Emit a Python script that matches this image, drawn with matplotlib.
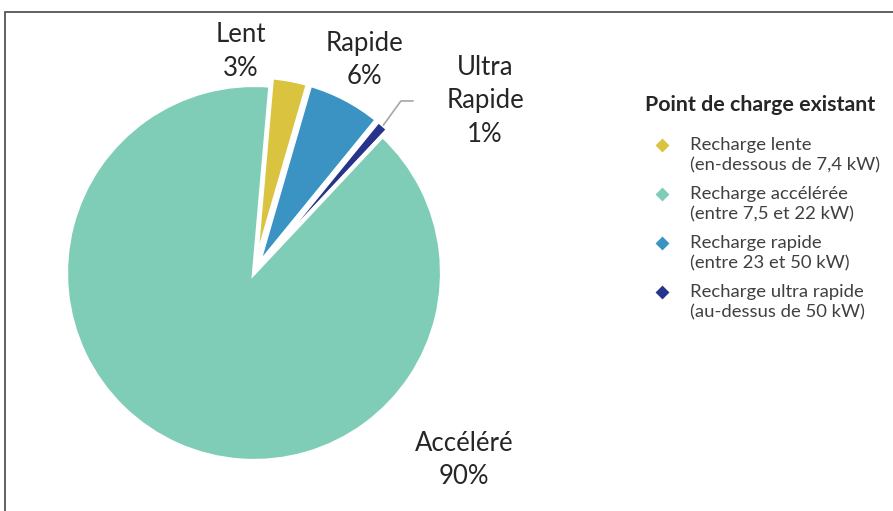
import numpy as np
import matplotlib.pyplot as plt
from matplotlib.patches import Rectangle

plt.rcParams['font.family'] = ['Lato', 'DejaVu Sans']

# Données
segments = ['Lent', 'Rapide', 'Ultra\nRapide', 'Accéléré']
parts = [3.1, 6.4, 1.1, 89.4]
pourcents = ['3%', '6%', '1%', '90%']
couleurs = ['#D9C33F', '#3A93C3', '#27348B', '#7FCDB6']

titre_leg = 'Point de charge existant'
legende = ['Recharge lente\n(en-dessous de 7,4 kW)',
           'Recharge accélérée\n(entre 7,5 et 22 kW)',
           'Recharge rapide\n(entre 23 et 50 kW)',
           'Recharge ultra rapide\n(au-dessus de 50 kW)']
ordre_leg = [0, 3, 1, 2]  # lente, accélérée, rapide, ultra

fig = plt.figure(figsize=(8.93, 5.11), dpi=100)

# camembert
ax = fig.add_axes([0.0213, 0.0059, 0.5263, 0.9198])
wedges, _ = ax.pie(parts, colors=couleurs, startangle=85, counterclock=False,
                   explode=[0.045, 0.045, 0.045, 0], radius=1,
                   wedgeprops=dict(edgecolor='white', linewidth=3))
ax.set_xlim(-1.25, 1.25)
ax.set_ylim(-1.25, 1.25)
ax.set_aspect('equal')

# étiquettes
pos_lab = [(-0.069, 1.176), (0.590, 1.133), (1.229, 0.915), (1.117, -0.995)]
for seg, pct, (x, y) in zip(segments, pourcents, pos_lab):
    ax.text(x, y, seg + '\n' + pct, ha='center', va='center', fontsize=18.5,
            linespacing=1.44, color='#262626')

# trait de rappel pour "Ultra Rapide"
w = wedges[2]
th = np.radians((w.theta1 + w.theta2) / 2)
tip = (w.center[0] + w.r * np.cos(th), w.center[1] + w.r * np.sin(th))
ax.annotate('', xy=tip, xytext=(0.846, 0.915),
            arrowprops=dict(arrowstyle='-', color='#a6a6a6', lw=1.2,
                            shrinkA=0, shrinkB=0,
                            connectionstyle='angle,angleA=0,angleB=54,rad=0'))

# légende (axes en pixels)
lax = fig.add_axes([0, 0, 1, 1])
lax.set_xlim(0, 893)
lax.set_ylim(511, 0)
lax.axis('off')
lax.text(645, 105, titre_leg, fontweight='bold', fontsize=15.4, va='center',
         ha='left', color='#262626')
for i, k in enumerate(ordre_leg):
    ym = 145 + i * 49
    lax.scatter(662, ym, marker='D', s=50, color=couleurs[k], linewidths=0)
    lax.text(690, ym + 10, legende[i], fontsize=13.3, va='center', ha='left',
             linespacing=1.36, color='#404040')

# cadre
fig.add_artist(Rectangle((5 / 893, -0.1), 1.2, 1 - 12 / 511 + 0.1,
                         transform=fig.transFigure, fill=False,
                         edgecolor='#555555', lw=1.3))

plt.savefig('out.png', dpi=100)
